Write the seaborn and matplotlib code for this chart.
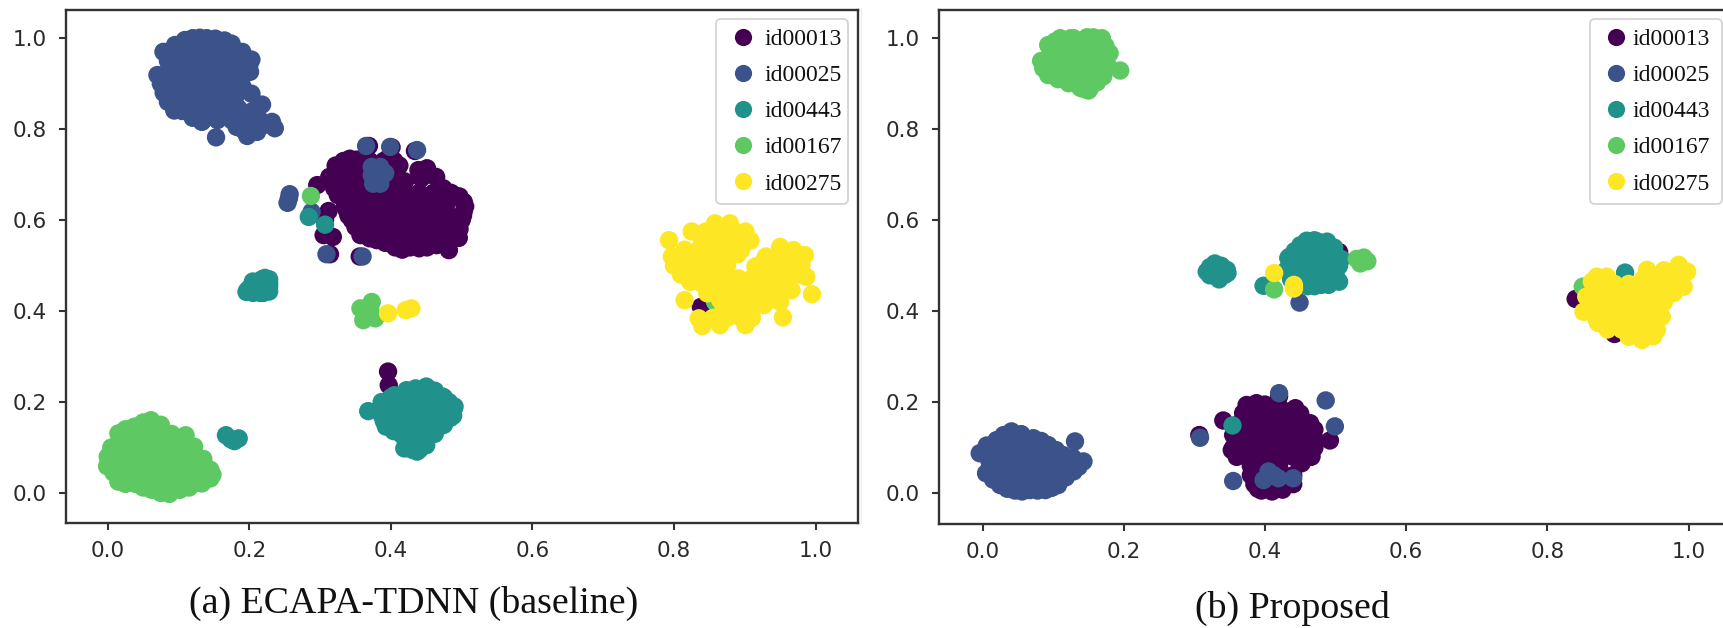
import numpy as np
import pandas as pd
import matplotlib
matplotlib.use("Agg")
import matplotlib.pyplot as plt
from matplotlib.lines import Line2D
import seaborn as sns

speakers = ["id00013", "id00025", "id00443", "id00167", "id00275"]
colors = ["#440154", "#3b528b", "#21918c", "#5ec962", "#fde725"]
tick_labels = ["0.0", "0.2", "0.4", "0.6", "0.8", "1.0"]
tick_values = [0.0, 0.2, 0.4, 0.6, 0.8, 1.0]
caption_a = "(a) ECAPA-TDNN (baseline)"
caption_b = "(b) Proposed"

# ---------- panel (a) ----------
a_id00013 = [
 (.406,.54),(.427,.54),(.451,.54),(.482,.534),
 (.38,.556),(.40,.56),(.42,.56),(.44,.56),(.46,.56),(.48,.56),(.496,.561),(.357,.567),
 (.357,.58),(.375,.58),(.395,.58),(.415,.58),(.435,.58),(.455,.58),(.475,.58),(.497,.58),
 (.345,.60),(.365,.60),(.385,.60),(.405,.60),(.425,.60),(.445,.60),(.465,.60),(.485,.60),(.50,.60),
 (.338,.62),(.358,.62),(.378,.62),(.398,.62),(.418,.62),(.438,.62),(.458,.62),(.478,.62),(.503,.62),
 (.34,.64),(.36,.64),(.38,.64),(.40,.64),(.42,.64),(.44,.64),(.46,.64),(.48,.64),(.503,.64),
 (.36,.66),(.38,.66),(.40,.66),(.42,.66),(.44,.66),(.46,.66),(.48,.66),(.497,.652),
 (.41,.675),(.42,.685),
 (.333,.73),(.352,.733),(.37,.73),(.39,.73),(.405,.73),
 (.326,.71),(.345,.71),(.365,.71),(.385,.71),(.405,.71),
 (.313,.695),(.33,.69),(.35,.69),(.37,.69),(.39,.69),(.41,.69),
 (.32,.67),(.34,.67),(.36,.67),(.38,.67),
 (.325,.655),(.345,.655),
 (.439,.71),(.451,.714),(.464,.695),(.443,.692),(.455,.70),(.474,.67),(.485,.66),
 (.296,.677),(.312,.62),(.305,.567),(.318,.563),(.314,.525),(.356,.52),(.369,.763),(.401,.76),(.434,.752),(.307,.60),
 (.396,.267),(.397,.237),(.838,.409),
 (.322,.72),(.342,.735),(.36,.735),(.395,.735),(.412,.72),(.408,.70),
 (.34,.61),(.335,.63),(.35,.585),(.37,.56),(.392,.55),(.416,.535),(.44,.538),(.465,.545),(.49,.56),
 (.505,.63),(.502,.61),(.49,.655),
]
a_id00025 = [
 (.0702,.919),(.0787,.970),(.109,.996),(.130,1.001),(.152,.999),(.175,.988),(.203,.953),(.201,.926),
 (.203,.878),(.218,.854),(.232,.816),(.236,.802),(.211,.794),(.197,.785),(.182,.805),(.153,.782),
 (.133,.816),(.114,.838),(.094,.841),(.079,.880),
 (.10,.97),(.12,.97),(.14,.97),(.16,.97),(.18,.97),
 (.09,.945),(.11,.945),(.13,.945),(.15,.945),(.17,.945),(.19,.945),
 (.08,.92),(.10,.92),(.12,.92),(.14,.92),(.16,.92),(.18,.92),
 (.09,.895),(.11,.895),(.13,.895),(.15,.895),(.17,.895),(.19,.895),
 (.10,.87),(.12,.87),(.14,.87),(.16,.87),(.18,.87),
 (.105,.845),(.125,.845),(.145,.845),(.165,.845),(.185,.845),(.205,.84),
 (.135,.82),(.155,.82),(.175,.82),(.195,.82),(.215,.82),
 (.19,.80),(.21,.805),(.225,.81),
 (.085,.95),(.095,.985),(.12,1.0),(.14,1.0),(.165,.995),(.19,.97),(.2,.94),(.075,.90),(.085,.86),(.105,.84),(.12,.825),
 (.373,.717),(.385,.717),(.392,.703),(.375,.68),(.385,.68),(.373,.699),(.383,.699),
 (.365,.763),(.399,.761),(.437,.754),
 (.257,.657),(.254,.638),(.256,.648),(.288,.618),
 (.309,.525),(.36,.52),
]
a_id00443 = [
 (.197,.445),(.205,.455),(.205,.44),(.213,.465),(.213,.448),(.222,.473),(.228,.47),(.228,.455),(.228,.443),(.215,.44),(.205,.465),(.22,.458),
 (.2,.45),(.21,.46),(.218,.47),(.196,.442),(.22,.44),(.228,.462),
 (.368,.18),(.387,.20),(.422,.226),(.45,.234),(.473,.212),(.489,.186),(.473,.149),(.45,.105),(.437,.091),(.419,.098),(.416,.127),(.393,.146),(.387,.171),
 (.40,.21),(.42,.21),(.44,.21),(.46,.21),(.475,.21),
 (.39,.19),(.41,.19),(.43,.19),(.45,.19),(.47,.19),(.49,.19),
 (.395,.17),(.415,.17),(.435,.17),(.455,.17),(.475,.17),(.488,.17),
 (.40,.15),(.42,.15),(.44,.15),(.46,.15),(.475,.15),
 (.42,.13),(.44,.13),(.46,.13),(.425,.11),(.445,.11),(.43,.095),(.44,.095),
 (.405,.215),(.435,.23),(.462,.225),(.482,.2),(.484,.165),(.462,.13),(.44,.098),(.404,.136),(.39,.158),
 (.167,.127),(.179,.114),(.185,.12),(.174,.118),
 (.284,.607),(.307,.59),
]
a_id00167 = [
 (-.001,.059),(.015,.131),(.015,.025),(.061,.16),(.038,.146),(.11,.127),(.122,.102),(.145,.051),(.145,.032),(.133,.021),(.102,.007),(.087,-.002),(.062,.007),(.038,.021),
 (.03,.14),(.05,.14),(.07,.14),
 (.02,.12),(.04,.12),(.06,.12),(.08,.12),(.10,.12),
 (.02,.10),(.04,.10),(.06,.10),(.08,.10),(.10,.10),(.12,.10),
 (.01,.08),(.03,.08),(.05,.08),(.07,.08),(.09,.08),(.11,.08),(.125,.08),
 (.02,.06),(.04,.06),(.06,.06),(.08,.06),(.10,.06),(.12,.06),(.135,.06),
 (.02,.04),(.04,.04),(.06,.04),(.08,.04),(.10,.04),(.12,.04),(.14,.04),
 (.04,.02),(.06,.02),(.08,.02),(.10,.02),(.12,.02),
 (.005,.1),(.0,.08),(.008,.045),(.025,.14),(.05,.155),(.075,.15),(.09,.13),(.135,.075),(.148,.04),(.115,.012),(.075,.0),(.05,.012),(.025,.02),
 (.373,.42),(.357,.406),(.361,.38),(.378,.384),(.371,.402),(.37,.39),
 (.287,.653),(.858,.42),
]
a_id00275 = [
 (.793,.556),(.815,.424),(.995,.437),(.954,.386),
 (.858,.593),(.879,.593),
 (.825,.575),(.845,.575),(.865,.575),(.885,.575),(.901,.575),
 (.84,.555),(.86,.555),(.88,.555),(.90,.555),(.908,.555),
 (.815,.535),(.835,.535),(.855,.535),(.875,.535),(.895,.535),
 (.797,.52),(.815,.52),(.835,.52),(.855,.52),(.875,.52),(.89,.525),
 (.80,.50),(.82,.50),(.84,.50),(.86,.50),(.875,.50),
 (.81,.48),(.83,.48),(.85,.48),(.87,.48),
 (.823,.464),(.84,.46),(.855,.46),
 (.891,.472),(.91,.472),(.875,.455),(.895,.455),(.915,.455),
 (.865,.44),(.885,.44),(.905,.44),
 (.865,.425),(.885,.425),(.905,.425),(.92,.425),
 (.87,.41),(.89,.41),(.91,.41),
 (.835,.384),(.855,.385),(.875,.385),(.895,.385),(.91,.385),
 (.84,.367),(.865,.369),(.901,.369),(.847,.439),
 (.95,.541),(.969,.534),(.985,.523),(.987,.475),(.966,.446),(.95,.42),(.929,.516),(.915,.498),(.927,.413),
 (.93,.52),(.95,.52),(.97,.52),
 (.92,.50),(.94,.50),(.96,.50),(.98,.50),
 (.92,.48),(.94,.48),(.96,.48),(.98,.48),
 (.92,.46),(.94,.46),(.96,.46),
 (.925,.44),(.945,.44),(.93,.42),
 (.396,.395),(.421,.402),(.429,.406),
]

# ---------- panel (b) ----------
b_id00013 = [
 (.374,.194),(.388,.198),(.443,.187),(.464,.154),(.471,.117),(.466,.081),(.452,.066),(.353,.095),(.355,.128),(.369,.176),
 (.341,.16),(.307,.128),(.492,.116),(.42,.213),
 (.375,.18),(.395,.18),(.415,.18),(.435,.18),
 (.37,.16),(.39,.16),(.41,.16),(.43,.16),(.45,.16),
 (.365,.14),(.385,.14),(.405,.14),(.425,.14),(.445,.14),(.465,.14),
 (.36,.12),(.38,.12),(.40,.12),(.42,.12),(.44,.12),(.46,.12),(.47,.12),
 (.355,.10),(.375,.10),(.395,.10),(.415,.10),(.435,.10),(.455,.10),(.47,.10),
 (.36,.08),(.38,.08),(.40,.08),(.42,.08),(.44,.08),(.465,.08),
 (.38,.06),(.40,.06),(.42,.06),
 (.38,.04),(.40,.04),(.42,.04),(.44,.04),
 (.385,.02),(.405,.02),(.425,.02),(.44,.02),
 (.395,.006),(.41,.004),(.425,.008),
 (.36,.15),(.38,.19),(.40,.195),(.42,.19),(.45,.175),(.47,.14),(.45,.075),(.365,.085),(.39,.01),
 (.505,.53),(.84,.427),(.895,.35),
]
b_id00025 = [
 (-.004,.088),(.005,.044),(.02,.117),(.041,.136),(.072,.121),(.093,.106),(.114,.084),(.143,.07),(.129,.048),(.107,.018),(.089,.007),(.067,.007),(.046,.006),(.025,.018),
 (.131,.114),
 (.006,.105),(.03,.128),(.055,.13),(.083,.115),(.104,.095),(.128,.078),(.136,.058),(.118,.035),(.098,.012),(.078,.006),(.056,.004),(.035,.01),(.015,.03),
 (.02,.115),(.04,.115),(.06,.115),
 (.01,.10),(.03,.10),(.05,.10),(.07,.10),(.085,.10),
 (.005,.085),(.02,.085),(.04,.085),(.06,.085),(.08,.085),(.10,.085),
 (.01,.07),(.03,.07),(.05,.07),(.07,.07),(.09,.07),(.11,.07),(.13,.07),
 (.01,.055),(.02,.055),(.04,.055),(.06,.055),(.08,.055),(.10,.055),(.12,.055),
 (.02,.04),(.04,.04),(.06,.04),(.08,.04),(.10,.04),
 (.03,.025),(.05,.025),(.07,.025),(.09,.025),
 (.04,.012),(.06,.012),(.08,.012),
 (.308,.122),(.42,.22),(.486,.204),(.499,.147),(.355,.027),(.44,.033),
 (.405,.037),(.398,.029),(.412,.04),(.405,.048),(.419,.033),
 (.449,.419),
]
b_id00443 = [
 (.3175,.487),(.329,.505),(.346,.491),(.332,.476),(.343,.48),(.33,.49),
 (.322,.497),(.338,.5),(.347,.484),(.322,.479),(.335,.47),
 (.398,.456),
 (.459,.555),(.488,.553),(.475,.553),(.433,.517),
 (.46,.54),(.48,.54),(.49,.54),
 (.435,.52),(.455,.52),(.475,.52),(.495,.52),
 (.435,.50),(.455,.50),(.475,.50),(.495,.50),(.505,.50),
 (.44,.48),(.46,.48),(.48,.48),(.50,.48),
 (.455,.465),(.475,.465),(.495,.465),(.505,.465),
 (.46,.455),(.48,.458),
 (.442,.532),(.45,.545),(.47,.556),(.498,.54),(.508,.515),(.43,.49),(.437,.47),(.45,.46),(.47,.455),(.49,.458),
 (.354,.149),(.91,.485),
]
b_id00167 = [
 (.083,.95),(.11,1.0),(.148,1.002),(.169,1.0),(.18,.967),(.171,.916),(.152,.89),(.138,.892),(.107,.91),(.093,.919),(.195,.929),
 (.093,.985),(.129,1.0),(.178,.938),(.122,.901),(.086,.934),(.103,.993),(.157,1.002),(.174,.983),(.162,.903),(.145,.888),
 (.125,1.0),(.105,.985),(.125,.985),(.145,.985),(.165,.985),
 (.095,.96),(.115,.96),(.135,.96),(.155,.96),(.175,.96),
 (.09,.935),(.11,.935),(.13,.935),(.15,.935),(.17,.935),
 (.115,.91),(.135,.91),(.155,.91),(.14,.89),(.15,.885),
 (.53,.515),(.545,.51),(.535,.505),(.54,.518),
 (.413,.448),(.85,.454),
]
b_id00275 = [
 (.87,.476),(.884,.476),(.941,.491),(.986,.502),(.998,.487),(.993,.454),(.979,.44),(.962,.388),(.955,.359),(.934,.337),(.915,.344),(.872,.374),(.851,.399),(.855,.432),(.863,.465),
 (.935,.47),(.955,.47),(.975,.47),(.965,.49),(.95,.478),(.98,.485),
 (.875,.46),(.895,.46),(.915,.46),(.93,.46),(.95,.46),(.97,.46),(.99,.46),
 (.865,.44),(.885,.44),(.905,.44),(.925,.44),(.945,.44),(.965,.44),
 (.87,.42),(.89,.42),(.91,.42),(.93,.42),(.95,.42),(.965,.42),
 (.855,.40),(.875,.40),(.895,.40),(.915,.40),(.935,.40),(.955,.40),
 (.87,.38),(.89,.38),(.91,.38),(.925,.38),(.945,.38),
 (.885,.36),(.905,.36),(.925,.36),(.945,.36),
 (.915,.345),(.93,.345),(.95,.345),
 (.413,.484),(.441,.458),(.441,.45),
]

panel_a = [a_id00013, a_id00025, a_id00443, a_id00167, a_id00275]
panel_b = [b_id00013, b_id00025, b_id00443, b_id00167, b_id00275]


def frame(panel):
    rows = [(x, y, name) for name, pts in zip(speakers, panel) for x, y in pts]
    return pd.DataFrame(rows, columns=["x", "y", "speaker"])


W, H = 1723, 628
sns.set_theme(style="ticks")
plt.rcParams["font.family"] = ["DejaVu Sans"]
fig = plt.figure(figsize=(W / 100, H / 100), dpi=100, facecolor="white")


def axes_px(left, right, top, bottom):
    return fig.add_axes([left / W, 1 - bottom / H, (right - left) / W, (bottom - top) / H])


ax1 = axes_px(66, 858, 10, 523)
ax2 = axes_px(939.3, 1731, 10, 524)
fig.add_artist(Line2D([861 / W, 861 / W], [1 - 523 / H, 1 - 8 / H], color="#eeeeee", lw=1.0))

limits = [((-0.059, 1.060), (-0.066, 1.062)), ((-0.0612, 1.060), (-0.0675, 1.062))]
legend_box = [(716, 848, 19, 201), (1590, 1722, 19, 201)]
handle_len = [1.47, 1.40]
text_pad = [0.17, 0.0]

for ax, panel, (xl, yl), box, hl, pad in zip([ax1, ax2], [panel_a, panel_b], limits, legend_box, handle_len, text_pad):
    sns.scatterplot(data=frame(panel), x="x", y="y", hue="speaker", hue_order=speakers,
                    palette=colors, s=175, linewidth=0, ax=ax, legend="full", clip_on=True)
    ax.set_xlim(*xl)
    ax.set_ylim(*yl)
    ax.set_xlabel("")
    ax.set_ylabel("")
    ax.set_xticks(tick_values, tick_labels)
    ax.set_yticks(tick_values, tick_labels)
    ax.tick_params(length=5, width=1.5, color="#333333", labelcolor="#2a2a2a", labelsize=15.5)
    ax.tick_params(axis="x", pad=8)
    ax.tick_params(axis="y", pad=9)
    for s in ax.spines.values():
        s.set_visible(True)
        s.set_linewidth(1.7)
        s.set_color("#333333")
    handles, labels = ax.get_legend_handles_labels()
    for h in handles:
        h.set_markersize(12.4)
        h.set_markeredgewidth(0)
    (l, r, t, b) = box
    leg = ax.legend(handles, labels, loc="upper left", mode="expand",
                    bbox_to_anchor=(l / W, 1 - b / H, (r - l) / W, (b - t) / H), bbox_transform=fig.transFigure,
                    borderaxespad=0, frameon=True, edgecolor="#d4d4d4", facecolor="white", framealpha=1,
                    prop={"family": "Liberation Serif", "size": 17},
                    labelspacing=0.62, handletextpad=pad, borderpad=0.4, handlelength=hl)
    leg.get_frame().set_linewidth(1.3)
    for t_ in leg.get_texts():
        t_.set_color("#111111")

fig.text(414 / W, 1 - 603 / H, caption_a, ha="center", va="center",
         family="Liberation Serif", fontsize=27.3, color="#111111")
fig.text(1292 / W, 1 - 608 / H, caption_b, ha="center", va="center",
         family="Liberation Serif", fontsize=27.3, color="#111111")

fig.savefig("out.png", dpi=100, facecolor="white")
